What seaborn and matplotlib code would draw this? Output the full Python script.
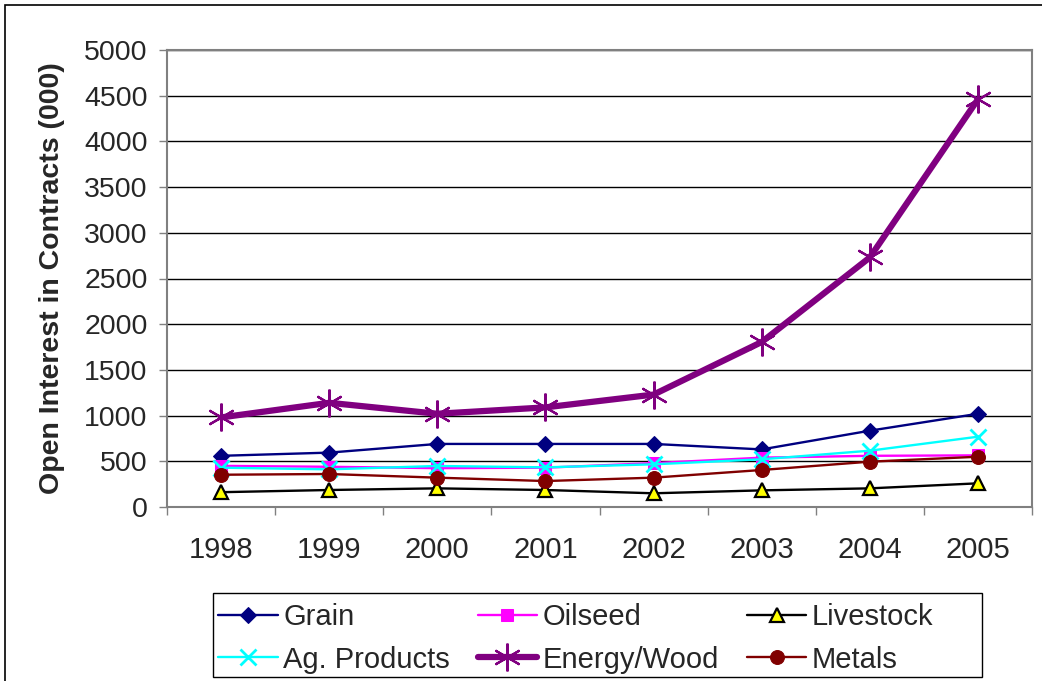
import matplotlib
matplotlib.use("Agg")
import matplotlib.pyplot as plt
from matplotlib.patches import Rectangle
from matplotlib.ticker import MultipleLocator, FixedLocator
import seaborn as sns
import numpy as np

years = ["1998", "1999", "2000", "2001", "2002", "2003", "2004", "2005"]

grain = [560, 595, 690, 690, 690, 630, 835, 1020]
oilseed = [450, 440, 425, 430, 480, 540, 560, 565]
livestock = [162, 186, 204, 186, 150, 182, 204, 259]
ag_products = [430, 412, 449, 434, 467, 522, 616, 769]
energy_wood = [980, 1140, 1020, 1090, 1230, 1805, 2730, 4460]
metals = [353, 361, 321, 284, 321, 405, 496, 550]

sns.set_theme(style="white")
plt.rcParams["font.family"] = ["Liberation Sans", "DejaVu Sans"]

W, H = 1042, 681
fig = plt.figure(figsize=(W / 100, H / 100), dpi=100)
ax = fig.add_axes([167 / W, 1 - 507 / H, 865 / W, 457 / H])

x = np.arange(len(years))

series = [
    ("Grain", grain, dict(color="#000080", marker="D", markersize=8, linewidth=1.7,
                          markeredgecolor="#000080")),
    ("Oilseed", oilseed, dict(color="#FF00FF", marker="s", markersize=8, linewidth=1.7,
                              markeredgecolor="#FF00FF")),
    ("Livestock", livestock, dict(color="black", marker="^", markersize=10, linewidth=1.7,
                                  markerfacecolor="#FFFF00", markeredgecolor="black",
                                  markeredgewidth=1.6)),
    ("Ag. Products", ag_products, dict(color="#00FFFF", marker="x", markersize=11,
                                       linewidth=1.7, markeredgewidth=2,
                                       markeredgecolor="#00FFFF")),
    ("Energy/Wood", energy_wood, dict(color="#800080", marker=(6, 2, 0), markersize=20,
                                      linewidth=4.5, markeredgewidth=1.6,
                                      markeredgecolor="#800080")),
    ("Metals", metals, dict(color="#800000", marker="o", markersize=10, linewidth=1.7,
                            markeredgecolor="#800000")),
]

for name, vals, style in series:
    sns.lineplot(x=x, y=vals, ax=ax, label=name, **style)

ax.set_xlim(-0.5, len(years) - 0.5)
ax.set_ylim(0, 5000)

# y axis
ax.yaxis.set_major_locator(MultipleLocator(500))
ax.grid(axis="y", color="black", linewidth=1.0)
ax.grid(axis="x", visible=False)
ax.tick_params(axis="y", which="major", direction="out", length=6, width=1,
               color="#808080", labelsize=20.5, pad=8, left=True)

# x axis: labels at category centres, tick marks between categories
ax.set_xticks(x)
ax.set_xticklabels(years)
ax.xaxis.set_minor_locator(FixedLocator(np.arange(-0.5, len(years), 1.0)))
ax.tick_params(axis="x", which="major", length=0, labelsize=21, pad=21)
ax.tick_params(axis="x", which="minor", direction="out", length=6, width=1,
               color="#808080", bottom=True)

for side in ["top", "right", "left", "bottom"]:
    ax.spines[side].set_color("#808080")
    ax.spines[side].set_linewidth(1.5)

ax.set_ylabel("Open Interest in Contracts (000)", fontsize=20.5, fontweight="bold")
ax.yaxis.set_label_coords(-0.118, 0.5)
ax.set_xlabel("")

handles, labels = ax.get_legend_handles_labels()
ax.get_legend().remove()
order = [0, 3, 1, 4, 2, 5]
leg = fig.legend([handles[i] for i in order], [labels[i] for i in order],
                 ncol=3, loc="upper left",
                 bbox_to_anchor=(218 / W, 1 - 603 / H),
                 fontsize=21, frameon=False, handlelength=2.05,
                 handletextpad=0.18, labelspacing=0.5, borderpad=0,
                 columnspacing=0.95, borderaxespad=0)

# legend box
fig.patches.append(Rectangle((213 / W, 1 - 677 / H), 769 / W, 84 / H,
                             transform=fig.transFigure, fill=False,
                             edgecolor="black", linewidth=1.0))

# outer chart frame
fig.patches.append(Rectangle((5 / W, -0.2), 1.2, 0.2 + 676 / H,
                             transform=fig.transFigure, fill=False,
                             edgecolor="black", linewidth=1.2))

fig.savefig("out.png", dpi=100)
